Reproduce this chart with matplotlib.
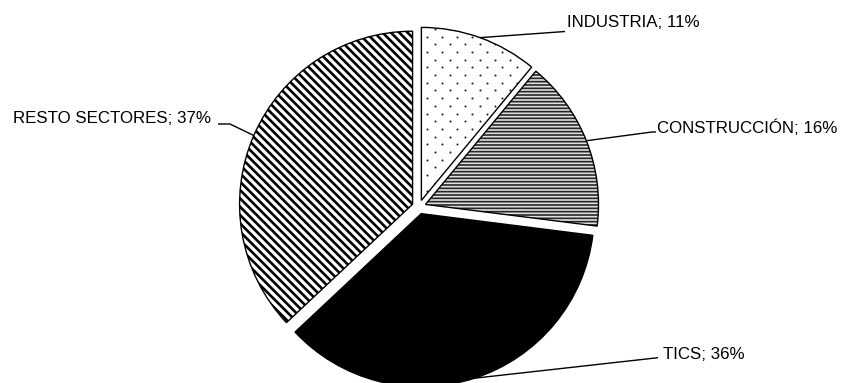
import numpy as np
import matplotlib
matplotlib.use("Agg")
import matplotlib.pyplot as plt

# ---- data ----
categories = ["INDUSTRIA", "CONSTRUCCIÓN", "TICS", "RESTO SECTORES"]
shares = [11, 16, 36, 37]
labels = [f"{c}; {v}%" for c, v in zip(categories, shares)]

# ---- style ----
hatches = [None, "-----", None, "\\\\\\\\"]
hatch_colors = ["#333333", "#262626", "black", "black"]
hatch_lws = [1.0, 1.2, 1.0, 1.9]
faces = ["white", "#e0e0e0", "black", "white"]

W, H = 845, 383
fig = plt.figure(figsize=(W / 100, H / 100), dpi=100)
ax = fig.add_axes([0, 0, 1, 1])
ax.set_axis_off()

cx, cy, R = 419, H - 207, 173
explode = [7] * 4  # data units (pixels)

# hatch layer
fill_wedges = []
for i in range(4):
    plt.rcParams["hatch.linewidth"] = hatch_lws[i]
    ws, _ = ax.pie(shares, startangle=90, counterclock=False, radius=R,
                   center=(cx, cy), explode=explode, frame=True,
                   wedgeprops=dict(linewidth=0))
    for j, w in enumerate(ws):
        if j != i:
            w.remove()
            continue
        w.set_facecolor(faces[i])
        w.set_edgecolor(hatch_colors[i])
        w.set_linewidth(0)
        if hatches[i]:
            w.set_hatch(hatches[i])
        if hasattr(w, "set_hatch_linewidth"):
            w.set_hatch_linewidth(hatch_lws[i])
        fill_wedges.append(w)

# dotted texture for the first slice (staggered dot grid, clipped to wedge)
dw = fill_wedges[0]
gx, gy = 15.0, 7.7
rows = np.arange(0, H + gy, gy)
pts = []
for k, yy in enumerate(rows):
    off = 0 if k % 2 == 0 else gx / 2
    for xx in np.arange(off, W, gx):
        pts.append((xx, yy))
pts = np.array(pts)
sc = ax.scatter(pts[:, 0], pts[:, 1], s=2.2, c="#222222", linewidths=0, zorder=1.5)
sc.set_clip_path(dw)

# outline layer
wedges, _ = ax.pie(shares, startangle=90, counterclock=False, radius=R,
                   center=(cx, cy), explode=explode, frame=True,
                   wedgeprops=dict(facecolor="none", edgecolor="black", linewidth=1.0,
                                   zorder=2))

# labels + leader lines
text_pos = [(567, H - 27), (657, H - 133), (663, H - 359), (12.7, H - 123)]
line_end = [[(565, H - 31.5)],
            [(652, H - 132), (656, H - 132)],
            [(658, H - 357.7)],
            [(230, H - 124), (218, H - 124)]]
for w, lab, tp, le in zip(wedges, labels, text_pos, line_end):
    mid = np.deg2rad((w.theta1 + w.theta2) / 2)
    x0 = w.center[0] + w.r * np.cos(mid)
    y0 = w.center[1] + w.r * np.sin(mid)
    xs = [x0] + [p[0] for p in le]
    ys = [y0] + [p[1] for p in le]
    ax.plot(xs, ys, color="black", lw=1.0, solid_capstyle="butt", zorder=3)
    ax.text(tp[0], tp[1], lab, ha="left", va="baseline",
            fontsize=12.2, family=["Liberation Sans", "DejaVu Sans"], color="black")

ax.set_xlim(0, W)
ax.set_ylim(0, H)
ax.set_aspect("auto")

fig.savefig("out.png", dpi=100)
